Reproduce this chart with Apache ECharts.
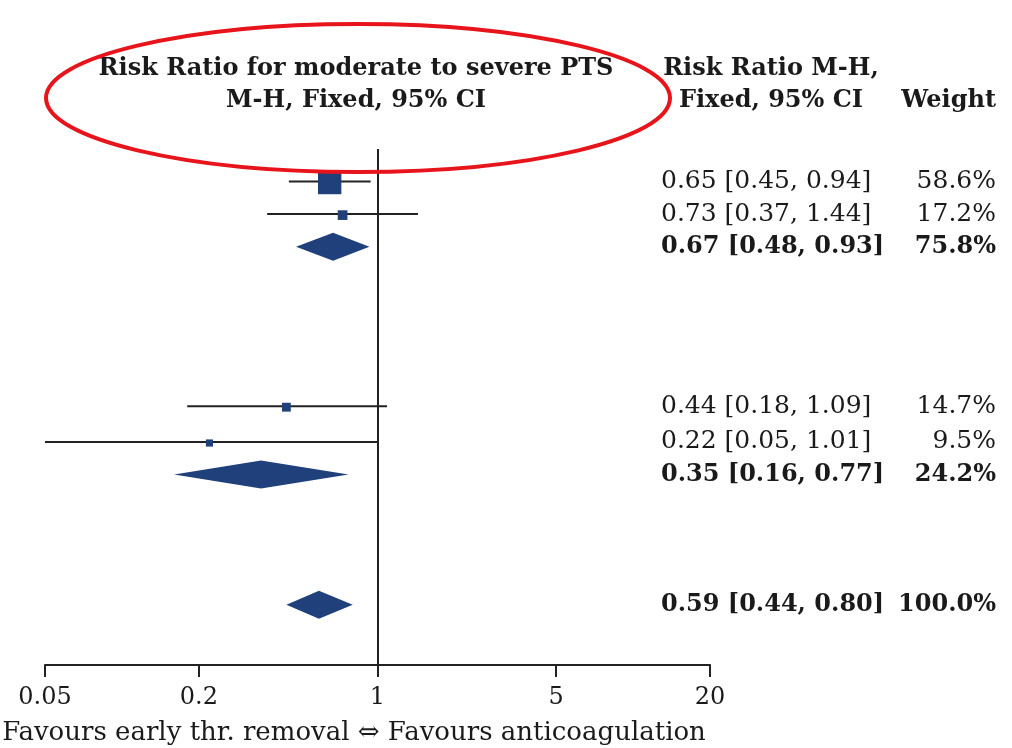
<!DOCTYPE html>
<html>
<head>
<meta charset="utf-8">
<title>Forest plot</title>
<script src="https://cdn.jsdelivr.net/npm/echarts@6/dist/echarts.min.js"></script>
<style>
  html, body { margin: 0; padding: 0; background: #fff; }
  #chart { width: 1012px; height: 748px; }
</style>
</head>
<body>
<div id="chart"></div>
<script>
// rows of the forest plot, top to bottom
const estimates = [0.65, 0.73, 0.67, 0.44, 0.22, 0.35, 0.59];
const lowerCI = [0.45, 0.37, 0.48, 0.18, 0.05, 0.16, 0.44];
const upperCI = [0.94, 1.44, 0.93, 1.09, 1.01, 0.77, 0.80];
const weights = [58.6, 17.2, 75.8, 14.7, 9.5, 24.2, 100.0];
const isPooled = [0, 0, 1, 0, 0, 1, 1];
const rowPositions = [1, 2, 3, 7.9, 9, 10, 14];
const xTicks = [0.05, 0.2, 1, 5, 20];

const FONT = "DejaVu Serif";
const INK = "#1a1a1a";
const NAVY = "#1f407a";

const chart = echarts.init(document.getElementById("chart"));

const rows = estimates.map((est, i) => [
  est, rowPositions[i], lowerCI[i], upperCI[i], weights[i], isPooled[i],
]);

// marker size from study weight
const boxSize = (w) => 0.33 * w + 4;

const renderRow = (params, api) => {
  const est = api.value(0);
  const row = api.value(1);
  const lo = api.value(2);
  const hi = api.value(3);
  const w = api.value(4);
  const pooled = api.value(5) === 1;
  const c = api.coord([est, row]);
  const l = api.coord([lo, row]);
  const h = api.coord([hi, row]);
  const y = c[1];
  const children = [];

  if (pooled) {
    children.push({
      type: "polygon",
      shape: { points: [[l[0], y], [c[0], y - 14], [h[0], y], [c[0], y + 14]] },
      style: { fill: NAVY },
    });
  } else {
    children.push({
      type: "line",
      shape: { x1: l[0], y1: y, x2: h[0], y2: y },
      style: { stroke: "#222", lineWidth: 2 },
    });
    const s = boxSize(w);
    children.push({
      type: "rect",
      shape: { x: c[0] - s / 2, y: y - s / 2 + 1, width: s, height: s },
      style: { fill: NAVY },
    });
  }

  const textStyle = {
    fontFamily: FONT,
    fontSize: pooled ? 24 : 25,
    fontWeight: pooled ? "bold" : "normal",
    fill: INK,
    verticalAlign: "middle",
  };
  children.push({
    type: "text",
    x: 661,
    y: y,
    style: Object.assign({}, textStyle, {
      text: est.toFixed(2) + " [" + lo.toFixed(2) + ", " + hi.toFixed(2) + "]",
      align: "left",
    }),
  });
  children.push({
    type: "text",
    x: 996,
    y: y,
    style: Object.assign({}, textStyle, {
      text: w.toFixed(1) + "%",
      align: "right",
    }),
  });

  return { type: "group", children };
};

const headerText = (text, x, y, align, bold, size) => ({
  type: "text",
  x,
  y,
  style: {
    text,
    fontFamily: FONT,
    fontSize: size || 24,
    fontWeight: bold ? "bold" : "normal",
    fill: INK,
    align,
    verticalAlign: "middle",
  },
});

const option = {
  backgroundColor: "#fff",
  animation: false,
  grid: { left: 45, right: 302, top: 149, bottom: 83 },
  xAxis: {
    type: "log",
    logBase: 10,
    min: 0.05,
    max: 20,
    position: "bottom",
    splitLine: { show: false },
    axisLine: { show: true, onZero: false, lineStyle: { color: "#222", width: 2 } },
    axisTick: {
      show: true,
      customValues: xTicks,
      length: 12,
      lineStyle: { color: "#222", width: 2 },
    },
    axisLabel: {
      customValues: xTicks,
      margin: 21,
      fontFamily: FONT,
      fontSize: 24,
      color: INK,
      formatter: (v) => String(+Number(v).toPrecision(3)),
    },
  },
  yAxis: {
    type: "value",
    min: 0,
    max: 15.85,
    inverse: true,
    show: false,
  },
  series: [
    {
      type: "line",
      data: [],
      markLine: {
        silent: true,
        symbol: "none",
        label: { show: false },
        lineStyle: { color: "#222", width: 2, type: "solid" },
        data: [{ xAxis: 1 }],
      },
    },
    {
      type: "custom",
      clip: false,
      renderItem: renderRow,
      data: rows,
      encode: { x: 0, y: 1 },
      z: 5,
    },
  ],
  graphic: [
    headerText("Risk Ratio for moderate to severe PTS", 356, 69, "center", true),
    headerText("M-H, Fixed, 95% CI", 356, 101, "center", true),
    headerText("Risk Ratio M-H,", 771, 69, "center", true),
    headerText("Fixed, 95% CI", 771, 101, "center", true),
    headerText("Weight", 996, 101, "right", true),
    headerText("Favours early thr. removal \u21d4 Favours anticoagulation", 354, 733, "center", false, 26),
    {
      type: "ellipse",
      shape: { cx: 358, cy: 98, rx: 312, ry: 74 },
      style: { fill: "none", stroke: "#e8141b", lineWidth: 4 },
      z: 100,
    },
  ],
};

chart.setOption(option);
</script>
</body>
</html>
